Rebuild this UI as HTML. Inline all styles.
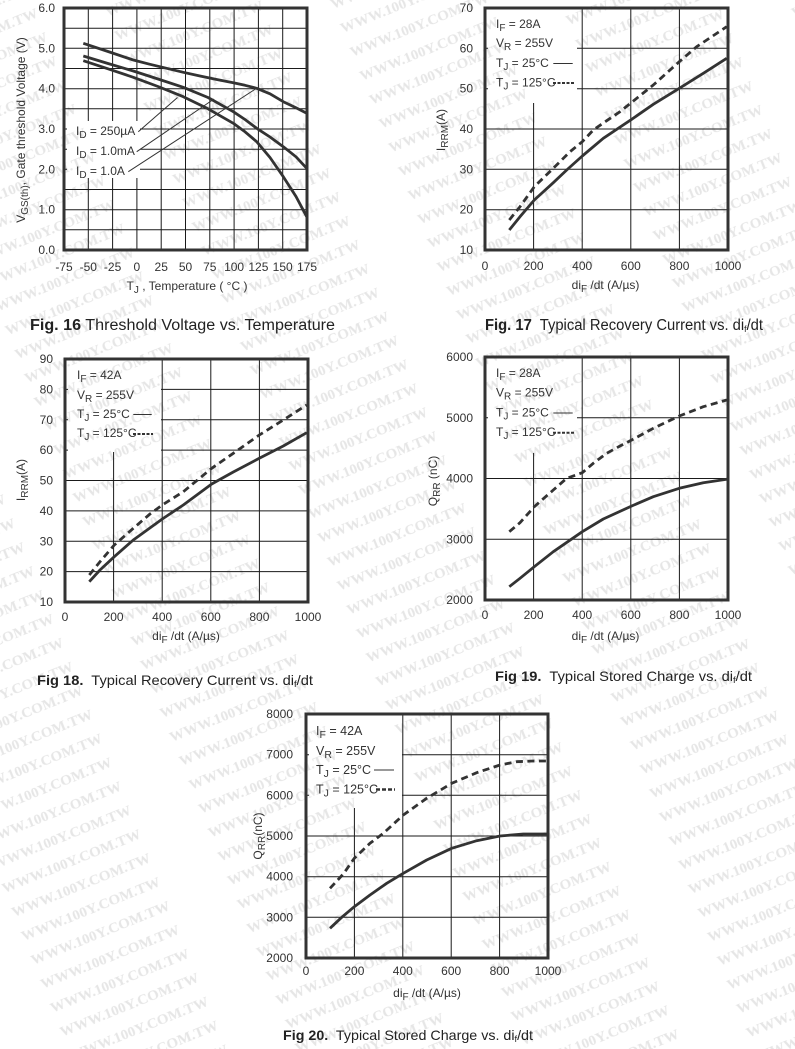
<!DOCTYPE html>
<html><head><meta charset="utf-8"><style>html,body{margin:0;padding:0;background:#fff}svg{display:block}</style></head><body>
<svg width="795" height="1049" viewBox="0 0 795 1049" xmlns="http://www.w3.org/2000/svg" font-family="'Liberation Sans', Arial, sans-serif">
<defs>
<pattern id="wm" x="89.3" y="-15.5" width="212" height="25.8" patternUnits="userSpaceOnUse" patternTransform="rotate(-22)">
<text x="4" y="20" font-family="'Liberation Serif', serif" font-weight="bold" font-size="15" fill="#e6e6e6">WWW.100Y.COM.TW</text>
</pattern>
</defs>
<rect width="795" height="1049" fill="#fff"/>
<rect width="795" height="1049" fill="url(#wm)"/>

<!-- ================= CHART 1 ================= -->
<g stroke="#1a1a1a" stroke-width="1" fill="none">
<path d="M88.3,8V121M88.3,178V250M112.6,8V121M112.6,178V250M136.9,8V121M136.9,178V250M161.2,8V250M185.5,8V250M209.8,8V250M234.1,8V250M258.4,8V250M282.7,8V250"/>
<path d="M64,229.8H307M64,209.7H307M64,189.5H307M64,169.3H67M140,169.3H307M64,149.2H67M140,149.2H307M64,129H67M140,129H307M64,108.8H307M64,88.7H307M64,68.5H307M64,48.3H307M64,28.2H307"/>
<path d="M138.3,131.7L177.5,97.5M136.7,151.7L214,99M128.3,171.7L257,88" stroke="#333"/>
</g>
<g stroke="#333" stroke-width="2.8" fill="none" stroke-linejoin="round">
<path d="M83.3,43.3 L108,51.5 L133.3,60 L150,64.3 L166.7,68.3 L183.3,72.3 L200,76 L216.7,79.5 L233.3,82.7 L245,85.3 L256.7,88.3 L270,93.8 L283.3,101.7 L296,107.8 L306.7,113.3"/>
<path d="M83.3,56 L108,63.5 L133.3,71 L158,79 L183.3,87.3 L208,97.5 L233.3,111.7 L245,119.5 L256.7,128.3 L270,137 L283.3,146.7 L296,156.8 L306.7,168.3"/>
<path d="M83.3,60.7 L108,68.8 L133.3,77.3 L158,86.5 L183.3,96.7 L208,108.8 L233.3,123.3 L245,131.8 L256.7,141.7 L270,157.5 L283.3,176.7 L296,196.5 L306.7,216.7"/>
</g>
<rect x="64" y="8" width="243" height="242" fill="none" stroke="#333" stroke-width="3"/>
<g font-size="12" fill="#333">
<text x="76" y="135">I<tspan dy="3" font-size="10">D</tspan><tspan dy="-3"> = 250µA</tspan></text>
<text x="76" y="155">I<tspan dy="3" font-size="10">D</tspan><tspan dy="-3"> = 1.0mA</tspan></text>
<text x="76" y="175">I<tspan dy="3" font-size="10">D</tspan><tspan dy="-3"> = 1.0A</tspan></text>
</g>
<g font-size="12" fill="#333" text-anchor="end">
<text x="55" y="12">6.0</text><text x="55" y="52.3">5.0</text><text x="55" y="92.7">4.0</text><text x="55" y="133">3.0</text><text x="55" y="173.3">2.0</text><text x="55" y="213.7">1.0</text><text x="55" y="254">0.0</text>
</g>
<g font-size="12" fill="#333" text-anchor="middle">
<text x="64" y="271">-75</text><text x="88.3" y="271">-50</text><text x="112.6" y="271">-25</text><text x="136.9" y="271">0</text><text x="161.2" y="271">25</text><text x="185.5" y="271">50</text><text x="209.8" y="271">75</text><text x="234.1" y="271">100</text><text x="258.4" y="271">125</text><text x="282.7" y="271">150</text><text x="307" y="271">175</text>
<text x="187" y="290">T<tspan dy="3" font-size="10">J</tspan><tspan dy="-3"> , Temperature ( °C )</tspan></text>
<text transform="translate(25,130) rotate(-90)">V<tspan dy="3" font-size="10">GS(th)</tspan><tspan dy="-3">, Gate threshold Voltage (V)</tspan></text>
</g>
<text x="30" y="330" font-size="15.5" fill="#222" textLength="305" lengthAdjust="spacingAndGlyphs"><tspan font-weight="bold">Fig. 16</tspan> Threshold Voltage vs. Temperature</text>

<!-- ================= CHART 2 ================= -->
<g stroke="#1a1a1a" stroke-width="1" fill="none">
<path d="M533.6,103V250M582.2,8V250M630.8,8V250M679.4,8V250"/>
<path d="M485,209.7H728M485,169.3H728M485,129H728M485,88.7H488M577,88.7H728M485,48.3H488M577,48.3H728"/>
</g>
<g stroke="#333" stroke-width="2.8" fill="none" stroke-linejoin="round">
<path d="M509.3,230 L520,216.7 L534.3,200 L553.3,182.7 L566.7,170 L582.3,156 L603.3,138.3 L631.7,119.3 L653.3,104.3 L679.3,88.3 L703.3,73.3 L726.7,58.3"/>
<path stroke-dasharray="7 4.5" d="M509.3,220 L520,206.7 L534.3,186.7 L553.3,168.3 L570,151.7 L582.3,141.7 L593.3,130 L606.7,120.7 L620,111.7 L636.7,98.3 L653.3,85 L679.3,61.7 L696.7,46.7 L726.7,26.7"/>
</g>
<rect x="485" y="8" width="243" height="242" fill="none" stroke="#333" stroke-width="3"/>
<g font-size="12" fill="#333">
<text x="496" y="28">I<tspan dy="3" font-size="10">F</tspan><tspan dy="-3"> = 28A</tspan></text>
<text x="496" y="47">V<tspan dy="3" font-size="10">R</tspan><tspan dy="-3"> = 255V</tspan></text>
<text x="496" y="67">T<tspan dy="3" font-size="10">J</tspan><tspan dy="-3"> = 25°C</tspan></text>
<text x="496" y="86.5">T<tspan dy="3" font-size="10">J</tspan><tspan dy="-3"> = 125°C</tspan></text>
</g>
<path d="M553.3,63.5H572.7" stroke="#333" stroke-width="1"/>
<path d="M553,83H574" stroke="#333" stroke-width="2" stroke-dasharray="3 1.5"/>
<g font-size="12" fill="#333" text-anchor="end">
<text x="473" y="12">70</text><text x="473" y="52.3">60</text><text x="473" y="92.7">50</text><text x="473" y="133">40</text><text x="473" y="173.3">30</text><text x="473" y="213.7">20</text><text x="473" y="254">10</text>
</g>
<g font-size="12" fill="#333" text-anchor="middle">
<text x="485" y="270">0</text><text x="533.6" y="270">200</text><text x="582.2" y="270">400</text><text x="630.8" y="270">600</text><text x="679.4" y="270">800</text><text x="728" y="270">1000</text>
<text x="605.5" y="289">di<tspan dy="3" font-size="10">F</tspan><tspan dy="-3"> /dt (A/µs)</tspan></text>
<text transform="translate(445,130) rotate(-90)">I<tspan dy="3" font-size="10">RRM</tspan><tspan dy="-3">(A)</tspan></text>
</g>
<text x="485" y="330" font-size="15.5" fill="#222" textLength="278" lengthAdjust="spacingAndGlyphs"><tspan font-weight="bold">Fig. 17</tspan>&#160; Typical Recovery Current vs. di<tspan font-size="9" dy="2">f</tspan><tspan dy="-2">/dt</tspan></text>

<!-- ================= CHART 3 ================= -->
<g stroke="#1a1a1a" stroke-width="1" fill="none">
<path d="M113.6,452V602M162.2,359V602M210.8,359V602M259.4,359V602"/>
<path d="M65,389.4H68M161,389.4H308M65,419.8H68M161,419.8H308M65,450.1H68M161,450.1H308M65,480.5H308M65,510.9H308M65,541.3H308M65,571.6H308"/>
</g>
<g stroke="#333" stroke-width="2.8" fill="none" stroke-linejoin="round">
<path d="M89.3,581.7 L100,570 L114.3,556.7 L133.3,540 L162.3,519 L183.3,505 L211.7,484 L233.3,472 L259.3,458.3 L283.3,446 L306.7,432.7"/>
<path stroke-dasharray="7 4.5" d="M89.3,575 L100,561.7 L114.3,545 L133.3,528.3 L150,514 L162.3,505 L183.3,491.7 L211.7,468.3 L233.3,453.3 L259.3,435 L283.3,420 L306.7,405"/>
</g>
<rect x="65" y="359" width="243" height="243" fill="none" stroke="#333" stroke-width="3"/>
<g font-size="12" fill="#333">
<text x="77" y="379">I<tspan dy="3" font-size="10">F</tspan><tspan dy="-3"> = 42A</tspan></text>
<text x="77" y="399">V<tspan dy="3" font-size="10">R</tspan><tspan dy="-3"> = 255V</tspan></text>
<text x="77" y="418">T<tspan dy="3" font-size="10">J</tspan><tspan dy="-3"> = 25°C</tspan></text>
<text x="77" y="437">T<tspan dy="3" font-size="10">J</tspan><tspan dy="-3"> = 125°C</tspan></text>
</g>
<path d="M133.3,414.5H151.7" stroke="#333" stroke-width="1"/>
<path d="M133,434H153" stroke="#333" stroke-width="2" stroke-dasharray="3 1.5"/>
<g font-size="12" fill="#333" text-anchor="end">
<text x="53" y="363">90</text><text x="53" y="393.4">80</text><text x="53" y="423.8">70</text><text x="53" y="454.1">60</text><text x="53" y="484.5">50</text><text x="53" y="514.9">40</text><text x="53" y="545.3">30</text><text x="53" y="575.6">20</text><text x="53" y="606">10</text>
</g>
<g font-size="12" fill="#333" text-anchor="middle">
<text x="65" y="621">0</text><text x="113.6" y="621">200</text><text x="162.2" y="621">400</text><text x="210.8" y="621">600</text><text x="259.4" y="621">800</text><text x="308" y="621">1000</text>
<text x="186" y="640">di<tspan dy="3" font-size="10">F</tspan><tspan dy="-3"> /dt (A/µs)</tspan></text>
<text transform="translate(25,480) rotate(-90)">I<tspan dy="3" font-size="10">RRM</tspan><tspan dy="-3">(A)</tspan></text>
</g>
<text x="37" y="685" font-size="14" fill="#222" textLength="276" lengthAdjust="spacingAndGlyphs"><tspan font-weight="bold">Fig 18.</tspan>&#160; Typical Recovery Current vs. di<tspan font-size="9" dy="2">f</tspan><tspan dy="-2">/dt</tspan></text>

<!-- ================= CHART 4 ================= -->
<g stroke="#1a1a1a" stroke-width="1" fill="none">
<path d="M533.6,453V600M582.2,357V600M630.8,357V600M679.4,357V600"/>
<path d="M485,417.75H488M577,417.75H728M485,478.5H728M485,539.25H728"/>
</g>
<g stroke="#333" stroke-width="2.8" fill="none" stroke-linejoin="round">
<path d="M509.3,586.7 L520,578.3 L534.3,566.7 L553.3,551.7 L582.3,531.7 L603.3,519 L631.7,506 L653.3,496.7 L679.3,488.3 L703.3,482.7 L726.7,479.3"/>
<path stroke-dasharray="7 4.5" d="M509.3,531.7 L520,522.7 L534.3,506.7 L553.3,490 L566.7,478.3 L582.3,472.7 L593.3,463.3 L606.7,453.3 L620,446 L631.7,440 L653.3,428.3 L679.3,416 L703.3,406.7 L726.7,400"/>
</g>
<rect x="485" y="357" width="243" height="243" fill="none" stroke="#333" stroke-width="3"/>
<g font-size="12" fill="#333">
<text x="496" y="377">I<tspan dy="3" font-size="10">F</tspan><tspan dy="-3"> = 28A</tspan></text>
<text x="496" y="396.5">V<tspan dy="3" font-size="10">R</tspan><tspan dy="-3"> = 255V</tspan></text>
<text x="496" y="416.5">T<tspan dy="3" font-size="10">J</tspan><tspan dy="-3"> = 25°C</tspan></text>
<text x="496" y="436">T<tspan dy="3" font-size="10">J</tspan><tspan dy="-3"> = 125°C</tspan></text>
</g>
<path d="M553.3,413H572.7" stroke="#333" stroke-width="1"/>
<path d="M553,432.7H574" stroke="#333" stroke-width="2" stroke-dasharray="3 1.5"/>
<g font-size="12" fill="#333" text-anchor="end">
<text x="473" y="361">6000</text><text x="473" y="421.75">5000</text><text x="473" y="482.5">4000</text><text x="473" y="543.25">3000</text><text x="473" y="604">2000</text>
</g>
<g font-size="12" fill="#333" text-anchor="middle">
<text x="485" y="619">0</text><text x="533.6" y="619">200</text><text x="582.2" y="619">400</text><text x="630.8" y="619">600</text><text x="679.4" y="619">800</text><text x="728" y="619">1000</text>
<text x="605.5" y="640">di<tspan dy="3" font-size="10">F</tspan><tspan dy="-3"> /dt (A/µs)</tspan></text>
<text transform="translate(437,481) rotate(-90)">Q<tspan dy="3" font-size="10">RR</tspan><tspan dy="-3"> (nC)</tspan></text>
</g>
<text x="495" y="681" font-size="14" fill="#222" textLength="257" lengthAdjust="spacingAndGlyphs"><tspan font-weight="bold">Fig 19.</tspan>&#160; Typical Stored Charge vs. di<tspan font-size="9" dy="2">f</tspan><tspan dy="-2">/dt</tspan></text>

<!-- ================= CHART 5 ================= -->
<g stroke="#1a1a1a" stroke-width="1" fill="none">
<path d="M354.4,808V958M402.8,714V958M451.2,714V958M499.6,714V958"/>
<path d="M306,754.7H309M402,754.7H548M306,795.3H309M402,795.3H548M306,836H548M306,876.7H548M306,917.3H548"/>
</g>
<g stroke="#333" stroke-width="2.8" fill="none" stroke-linejoin="round">
<path d="M330,928.3 L341.7,917.3 L354.3,906.7 L370,895 L386.7,883.3 L403.3,873.3 L426.7,860 L451.7,848.3 L476.7,840.7 L500,836 L523.3,834 L547.7,834"/>
<path stroke-dasharray="7 4.5" d="M330,888.3 L343.3,874 L354.3,858.3 L370,843.3 L383.3,833.3 L403.3,815 L426.7,798.3 L451.7,783.3 L476.7,772.7 L500,765 L516.7,761.7 L533.3,761 L547.7,761"/>
</g>
<rect x="306" y="714" width="242" height="244" fill="none" stroke="#333" stroke-width="3"/>
<g font-size="12.5" fill="#333">
<text x="316" y="735">I<tspan dy="3" font-size="10.5">F</tspan><tspan dy="-3"> = 42A</tspan></text>
<text x="316" y="755">V<tspan dy="3" font-size="10.5">R</tspan><tspan dy="-3"> = 255V</tspan></text>
<text x="316" y="774">T<tspan dy="3" font-size="10.5">J</tspan><tspan dy="-3"> = 25°C</tspan></text>
<text x="316" y="793.3">T<tspan dy="3" font-size="10.5">J</tspan><tspan dy="-3"> = 125°C</tspan></text>
</g>
<path d="M374,770H394" stroke="#333" stroke-width="1"/>
<path d="M376,789.5H395" stroke="#333" stroke-width="2.6" stroke-dasharray="4 2"/>
<g font-size="12" fill="#333" text-anchor="end">
<text x="293" y="718">8000</text><text x="293" y="758.7">7000</text><text x="293" y="799.3">6000</text><text x="293" y="840">5000</text><text x="293" y="880.7">4000</text><text x="293" y="921.3">3000</text><text x="293" y="962">2000</text>
</g>
<g font-size="12" fill="#333" text-anchor="middle">
<text x="306" y="975">0</text><text x="354.4" y="975">200</text><text x="402.8" y="975">400</text><text x="451.2" y="975">600</text><text x="499.6" y="975">800</text><text x="548" y="975">1000</text>
<text x="427" y="997">di<tspan dy="3" font-size="10">F</tspan><tspan dy="-3"> /dt (A/µs)</tspan></text>
<text transform="translate(262,836) rotate(-90)">Q<tspan dy="3" font-size="10">RR</tspan><tspan dy="-3">(nC)</tspan></text>
</g>
<text x="283" y="1040" font-size="14" fill="#222" textLength="250" lengthAdjust="spacingAndGlyphs"><tspan font-weight="bold">Fig 20.</tspan>&#160; Typical Stored Charge vs. di<tspan font-size="9" dy="2">f</tspan><tspan dy="-2">/dt</tspan></text>
</svg>
</body></html>
